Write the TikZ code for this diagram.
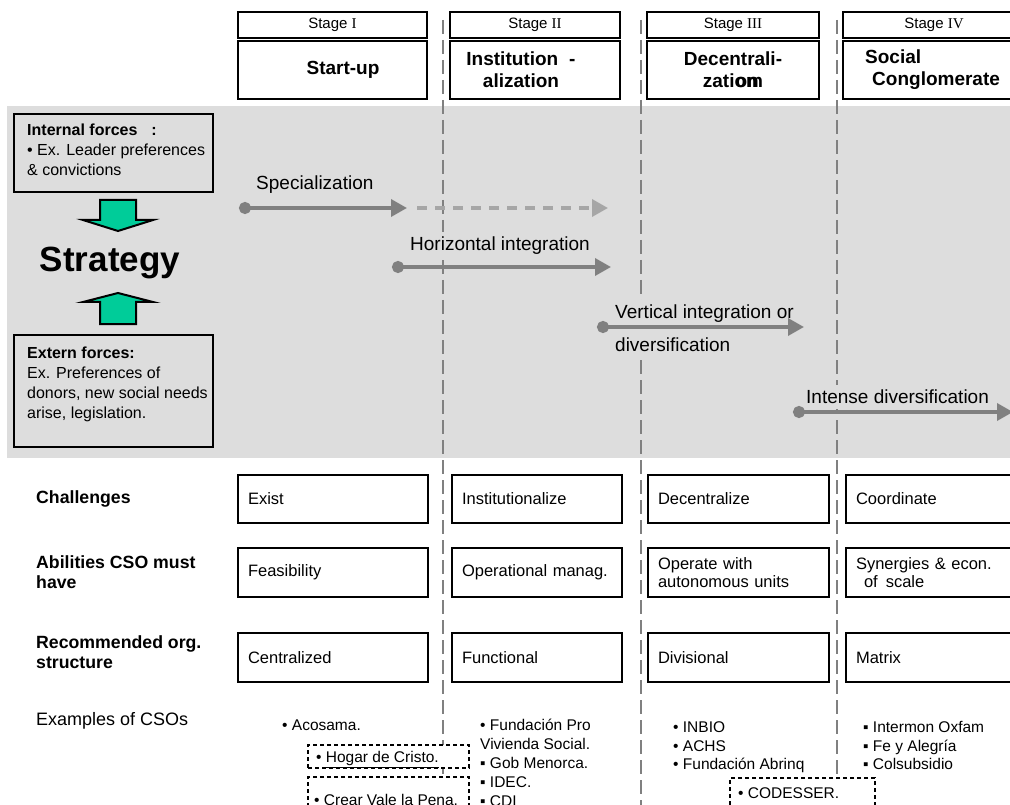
\documentclass[tikz,border=0pt]{standalone}
\usepackage{fontspec}
\setmainfont{Liberation Sans}
\newfontfamily\serifnum{Liberation Serif}
\usetikzlibrary{arrows.meta}
\definecolor{band}{RGB}{221,221,221}
\definecolor{arrgray}{RGB}{128,128,128}
\definecolor{arrlight}{RGB}{166,166,166}
\definecolor{vgray}{RGB}{128,128,128}
\definecolor{grn}{RGB}{0,204,153}
\newcommand\fsz[2]{\fontsize{#1}{#2}\selectfont}
\begin{document}
\begin{tikzpicture}[x=1pt,y=-1pt,
 vdash/.style={draw=vgray, line width=1.8, dash pattern=on 14pt off 6pt},
 stagebox/.style={draw, line width=2, fill=white, minimum height=26, inner sep=0, font=\fsz{15}{18}},
 mainbox/.style={draw, line width=2, fill=white, minimum height=58, inner sep=0},
 hdrtxt/.style={font=\fsz{19}{22}\bfseries, align=center, inner sep=0},
 forcebox/.style={draw, line width=2, inner sep=0},
 forcetxt/.style={font=\fsz{16}{20}, align=left, inner sep=0},
 blockarrow/.style={draw=black, line width=2, fill=grn, line join=miter},
 garrow/.style={draw=arrgray, line width=3.5, {Circle[length=12]}-{Triangle[length=16,width=17]}},
 garrowd/.style={draw=arrlight, line width=3.5, dash pattern=on 10pt off 8pt, -{Triangle[length=16,width=17]}},
 albl/.style={fill=band, font=\fsz{19}{33}, align=left, inner xsep=2, inner ysep=5},
 rowlbl/.style={font=\fsz{17.7}{20}\bfseries, align=left, inner sep=0, anchor=west},
 cell/.style={draw, line width=2, fill=white, inner xsep=10, inner ysep=0, align=left, font=\fsz{16.5}{18}},
 ex/.style={font=\fsz{15.5}{19}, inner sep=0, anchor=base west},
 exbox/.style={draw, line width=1.5, dash pattern=on 4pt off 3pt, fill=white, inner sep=0},
]
\useasboundingbox (0,0) rectangle (1010,805);
\clip (0,0) rectangle (1010,805);
% gray band
\fill[band] (7,106) rectangle (1010,458);
% vertical dashed stage separators
\foreach \x/\n in {443/a,641/b,837/c}{
  \coordinate (vt\n) at (\x,20);
  \coordinate (vb\n) at (\x,805);
  \draw[vdash] (vt\n) -- (vb\n);
}
% header stage boxes
\node[stagebox, minimum width=189] (st1) at (332.5,25) {Stage {\serifnum I}};
\node[stagebox, minimum width=170] (st2) at (535,25) {Stage {\serifnum II}};
\node[stagebox, minimum width=172] (st3) at (733,25) {Stage {\serifnum III}};
\node[stagebox, minimum width=182] (st4) at (934,25) {Stage {\serifnum IV}};
\node[mainbox, minimum width=189] (mb1) at (332.5,70) {};
\node[mainbox, minimum width=170] (mb2) at (535,70) {};
\node[mainbox, minimum width=172] (mb3) at (733,70) {};
\node[mainbox, minimum width=182] (mb4) at (934,70) {};
\node[hdrtxt] (mt1) at (343,70) {Start-up};
\node[hdrtxt] (mt2) at (521,70) {Institution\hspace{11pt}-\\alization};
\node[hdrtxt] (mt3) at (733,70) {Decentrali-\\zati\rlap{\kern1pt on}om};
\node[hdrtxt, align=left, anchor=west] (mt4) at (865,70) {Social\\\hspace{7pt}Conglomerate};
% forces
\node[forcebox, minimum width=199, minimum height=78] (intf) at (113.5,153) {};
\node[forcetxt, anchor=north west] (intt) at (27,124) {\textbf{Internal forces\hspace{14pt}:}\\\textbullet\ Ex. Leader preferences\\\& convictions};
\node[forcebox, minimum width=199, minimum height=112] (extf) at (113.5,391) {};
\node[forcetxt, anchor=north west] (extt) at (27,347) {\textbf{Extern forces:}\\Ex. Preferences of\\donors, new social needs\\arise, legislation.};
\draw[blockarrow] (100,200) -- (136,200) -- (136,220) -- (153,220) -- (118,231) -- (83,220) -- (100,220) -- cycle;
\draw[blockarrow] (118,293) -- (153,302) -- (136,302) -- (136,324) -- (100,324) -- (100,302) -- (83,302) -- cycle;
\node[font=\fsz{35}{40}\bfseries, inner sep=0] (strat) at (110,263) {Strategy};
% arrow labels
\node[albl, anchor=west] (lsp) at (254,185) {Specialization};
\node[albl, anchor=west] (lhi) at (408,246) {Horizontal integration};
\node[albl, anchor=west] (lvi) at (613,328.5) {Vertical integration or\\diversification};
\node[albl, anchor=west] (lid) at (804,397) {Intense diversification};
% strategy arrows
\coordinate (a1s) at (239,208); \coordinate (a1e) at (407,208);
\coordinate (a1d) at (417,208); \coordinate (a1f) at (608,208);
\coordinate (a2s) at (392,267); \coordinate (a2e) at (611,267);
\coordinate (a3s) at (597,327); \coordinate (a3e) at (804,327);
\coordinate (a4s) at (793,412); \coordinate (a4e) at (1013,412);
\draw[garrowd] (a1d) -- (a1f);
\draw[garrow] (a1s) -- (a1e);
\draw[garrow] (a2s) -- (a2e);
\draw[garrow] (a3s) -- (a3e);
\draw[garrow] (a4s) -- (a4e);
% row labels
\node[rowlbl] (lch) at (36,499) {Challenges};
\node[rowlbl] (lab) at (36,572) {Abilities CSO must\\have};
\node[rowlbl] (lre) at (36,652) {Recommended org.\\structure};
\node[rowlbl, font=\fsz{18}{20}] (lex) at (36,721) {Examples of CSOs};
% cells
\node[cell, text width=170, minimum height=48] (c11) at (333,499) {Exist};
\node[cell, text width=150, minimum height=48] (c12) at (537,499) {Institutionalize};
\node[cell, text width=161, minimum height=48] (c13) at (738.5,499) {Decentralize};
\node[cell, text width=164, minimum height=48] (c14) at (938,499) {Coordinate};
\node[cell, text width=170, minimum height=49] (c21) at (333,572.5) {Feasibility};
\node[cell, text width=150, minimum height=49] (c22) at (537,572.5) {Operational manag.};
\node[cell, text width=161, minimum height=49] (c23) at (738.5,572.5) {Operate with\\autonomous units};
\node[cell, text width=164, minimum height=49] (c24) at (938,572.5) {Synergies \& econ.\\\hspace{8pt}of\hspace{8pt}scale};
\node[cell, text width=170, minimum height=49] (c31) at (333,657.5) {Centralized};
\node[cell, text width=150, minimum height=49] (c32) at (537,657.5) {Functional};
\node[cell, text width=161, minimum height=49] (c33) at (738.5,657.5) {Divisional};
\node[cell, text width=164, minimum height=49] (c34) at (938,657.5) {Matrix};
% examples
\node[ex] (e11) at (282,730.5) {\textbullet\ Acosama.};
\node[exbox, minimum width=161, minimum height=23] (xb1) at (388.5,756.5) {};
\node[ex] (e12) at (316,762.5) {\textbullet\ \underline{Hogar de Cristo.}};
\node[exbox, minimum width=161, minimum height=44] (xb2) at (388.5,799) {};
\node[ex] (e13) at (314,805.5) {\textbullet\ Crear Vale la Pena,};
\node[ex] (e21) at (480,730.5) {\textbullet\ Fundación Pro};
\node[ex] (e22) at (480,749.5) {Vivienda Social.};
\node[ex] (e23) at (480,768.5) {▪ Gob Menorca.};
\node[ex] (e24) at (480,787.5) {▪ IDEC.};
\node[ex] (e25) at (480,806.5) {▪ CDI};
\node[ex] (e31) at (673,732.5) {\textbullet\ INBIO};
\node[ex] (e32) at (673,751.5) {\textbullet\ ACHS};
\node[ex] (e33) at (673,769.5) {\textbullet\ Fundación Abrinq};
\node[exbox, minimum width=145, minimum height=44] (xb3) at (802.5,800) {};
\node[ex] (e34) at (738,798.5) {\textbullet\ CODESSER.};
\node[ex] (e41) at (863,732.5) {▪ Intermon Oxfam};
\node[ex] (e42) at (863,751.5) {▪ Fe y Alegría};
\node[ex] (e43) at (863,769.5) {▪ Colsubsidio};
\end{tikzpicture}
\end{document}
